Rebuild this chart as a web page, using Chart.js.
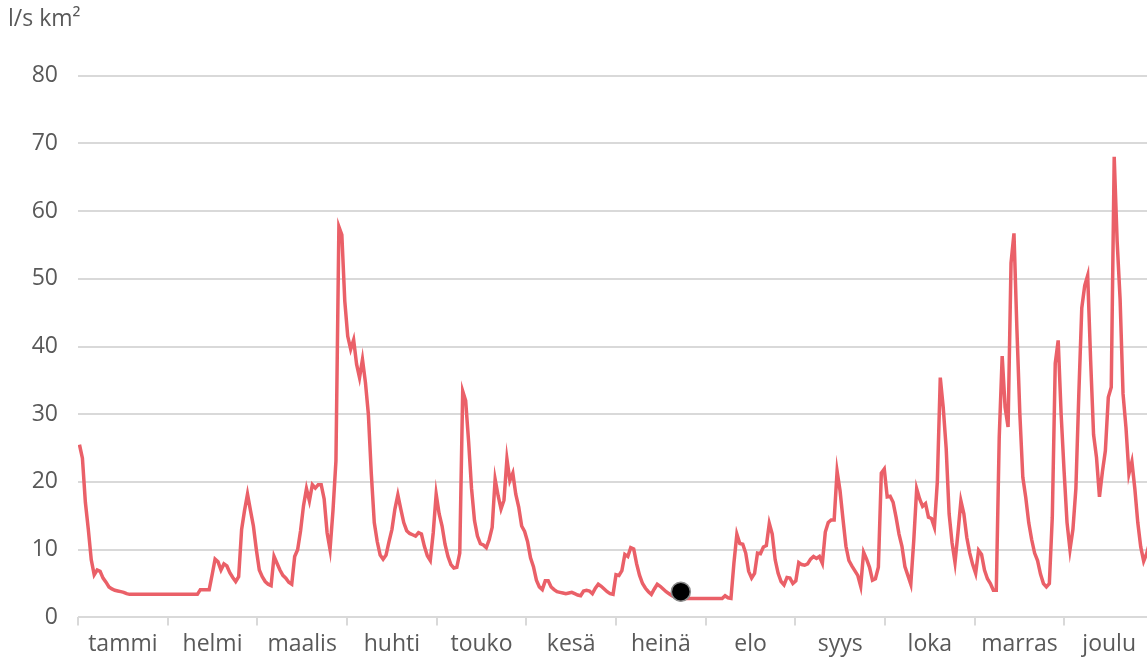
<!DOCTYPE html>
<html>
<head>
<meta charset="utf-8">
<script src="https://cdn.jsdelivr.net/npm/chart.js@4"></script>
<style>
  html, body { margin: 0; padding: 0; background: #fff; overflow: hidden; }
  #wrap { width: 1165px; height: 663px; }
</style>
</head>
<body>
<div id="wrap"><canvas id="runoffChart"></canvas></div>
<script>
const months = ['tammi', 'helmi', 'maalis', 'huhti', 'touko', 'kesä', 'heinä', 'elo', 'syys', 'loka', 'marras', 'joulu'];
const yTicks = [0, 10, 20, 30, 40, 50, 60, 70, 80];

// daily runoff, l/s km2 (one row per month)
const runoff = [
    25.5, 23.5, 17, 13, 8.5, 6.3, 7.0, 6.8, 5.8, 5.2, 4.5, 4.2, 4.0, 3.9, 3.8, 3.7, 3.5, 3.4, 3.4, 3.4, 3.4, 3.4, 3.4, 3.4, 3.4, 3.4, 3.4, 3.4, 3.4, 3.4, 3.4,
    3.4, 3.4, 3.4, 3.4, 3.4, 3.4, 3.4, 3.4, 3.4, 3.4, 4.1, 4.1, 4.1, 4.1, 6.3, 8.6, 8.2, 7.0, 7.9, 7.6, 6.6, 5.9, 5.3, 6.0, 13.0, 15.8, 18.2, 15.8,
    13.5, 10.0, 7.0, 6.0, 5.3, 4.9, 4.7, 9.0, 8.0, 7.0, 6.2, 5.8, 5.2, 4.9, 9.0, 10.0, 12.8, 16.5, 19.0, 17.2, 19.6, 19.1, 19.6, 19.6, 17.5, 12.5, 10.0, 15.8, 23.1, 57.7, 56.5,
    46.7, 41.5, 39.6, 41.0, 37.4, 35.4, 38.1, 34.7, 30.0, 21.2, 14.0, 11.2, 9.2, 8.6, 9.2, 11.2, 13.0, 16.0, 18.1, 16.0, 14.0, 12.8, 12.4, 12.2, 12.0, 12.5, 12.3, 10.5, 9.1, 8.4,
    12.5, 18.2, 15.3, 13.5, 10.8, 9.0, 7.8, 7.3, 7.4, 9.5, 33.4, 32.0, 26.0, 19.0, 14.3, 12.0, 10.9, 10.7, 10.3, 11.5, 13.3, 20.4, 18.0, 16.0, 17.3, 23.4, 20.2, 21.3, 18.2, 16.3, 13.5,
    12.7, 11.2, 8.8, 7.5, 5.5, 4.5, 4.1, 5.4, 5.4, 4.5, 4.1, 3.8, 3.7, 3.6, 3.5, 3.6, 3.7, 3.5, 3.3, 3.2, 3.9, 4.0, 3.9, 3.5, 4.3, 4.9, 4.6, 4.2, 3.8, 3.5,
    3.4, 6.3, 6.2, 6.9, 9.3, 9.0, 10.3, 10.1, 7.9, 6.2, 5.0, 4.3, 3.8, 3.4, 4.2, 4.9, 4.6, 4.2, 3.8, 3.5, 3.2, 3.0, 2.9, 2.8, 2.8, 2.8, 2.8, 2.8, 2.8, 2.8, 2.8,
    2.8, 2.8, 2.8, 2.8, 2.8, 2.8, 2.8, 3.2, 2.9, 2.8, 8.0, 12.3, 10.9, 10.8, 9.5, 6.8, 5.8, 6.5, 9.5, 9.4, 10.4, 10.6, 13.9, 12.3, 8.5, 6.5, 5.3, 4.8, 5.9, 5.8, 5.0,
    5.4, 8.1, 7.8, 7.7, 7.9, 8.6, 9.0, 8.7, 9.0, 8.0, 12.6, 14.0, 14.4, 14.4, 21.6, 18.7, 14.5, 10.5, 8.4, 7.6, 6.9, 6.2, 4.6, 9.6, 8.6, 7.4, 5.5, 5.7, 7.4, 21.3,
    21.9, 17.8, 17.9, 17.0, 14.8, 12.3, 10.5, 7.5, 6.2, 4.9, 11.3, 19.0, 17.5, 16.4, 16.8, 14.8, 14.6, 13.3, 20.0, 35.4, 31.0, 25.0, 15.3, 11.0, 8.1, 12.5, 17.2, 15.3, 11.8, 9.5, 7.8,
    6.5, 9.9, 9.3, 7.0, 5.7, 5.0, 4.0, 4.0, 26.6, 38.6, 31.0, 28.1, 52.3, 56.7, 42.5, 30.0, 20.7, 17.7, 14.0, 11.5, 9.5, 8.4, 6.4, 5.0, 4.5, 5.0, 14.8, 37.5, 40.9, 30.0,
    21.6, 14.0, 10.0, 13.0, 19.0, 33.0, 45.7, 49.0, 50.5, 38.0, 27.0, 23.6, 17.8, 21.5, 24.6, 32.5, 34.0, 68.0, 55.5, 47.0, 33.0, 28.0, 21.2, 23.0, 19.0, 14.0, 10.4, 8.3, 9.4, 11.0, 12.0
];

// current day marker
const markerDay = [204];
const markerValue = [3.8];

const textColor = '#595959';
const gridColor = '#d9d9d9';
const fontFamily = "'Open Sans', 'Noto Sans', sans-serif";

const monthTicks = [];
months.forEach((m, i) => {
    monthTicks.push({ value: i });
    monthTicks.push({ value: i + 0.5 });
});
monthTicks.push({ value: months.length });

const runoffChart = new Chart(
    document.getElementById('runoffChart'),
    {
    type: 'line',
    data: {
        datasets: [
            {
                label: 'marker',
                data: markerDay.map((d, i) => ({ x: d, y: markerValue[i] })),
                xAxisID: 'xDays',
                showLine: false,
                pointRadius: 9.5,
                pointBackgroundColor: '#000',
                pointBorderColor: '#8c8c8c',
                pointBorderWidth: 1.5,
                order: 0
            },
            {
                label: 'runoff',
                data: runoff.map((v, i) => ({ x: i, y: v })),
                xAxisID: 'xDays',
                borderColor: '#ea6068',
                borderWidth: 3.5,
                pointRadius: 0,
                tension: 0,
                order: 1
            }
        ]
    },
    options: {
        responsive: true,
        maintainAspectRatio: false,
        animation: false,
        layout: {
            padding: { left: 8, right: 0, top: 0, bottom: 0 }
        },
        plugins: {
            legend: { display: false },
            tooltip: { enabled: false },
            title: {
                display: true,
                text: 'l/s km²',
                align: 'start',
                color: textColor,
                font: { family: fontFamily, size: 23, weight: 'normal' },
                padding: { top: 6, bottom: 42 }
            }
        },
        scales: {
            xDays: {
                type: 'linear',
                display: false,
                min: -0.5,
                max: runoff.length - 0.5
            },
            xMonths: {
                type: 'linear',
                position: 'bottom',
                min: 0,
                max: months.length,
                afterBuildTicks: (axis) => { axis.ticks = monthTicks.slice(); },
                border: { display: false },
                grid: {
                    drawOnChartArea: false,
                    drawTicks: true,
                    tickLength: 8,
                    lineWidth: 2,
                    tickColor: (ctx) => Number.isInteger(ctx.tick.value) ? gridColor : 'rgba(0,0,0,0)'
                },
                ticks: {
                    autoSkip: false,
                    maxRotation: 0,
                    padding: 5,
                    color: textColor,
                    font: { family: fontFamily, size: 23 },
                    callback: (value) => Number.isInteger(value) ? '' : months[Math.floor(value)]
                }
            },
            y: {
                min: 0,
                max: 80,
                afterBuildTicks: (axis) => { axis.ticks = yTicks.map(v => ({ value: v })); },
                afterFit: (axis) => { axis.width = 70; },
                border: { display: false },
                grid: {
                    color: gridColor,
                    lineWidth: 2,
                    drawTicks: false
                },
                ticks: {
                    padding: 20,
                    color: textColor,
                    font: { family: fontFamily, size: 23 }
                }
            }
        }
    }
});
</script>
</body>
</html>
